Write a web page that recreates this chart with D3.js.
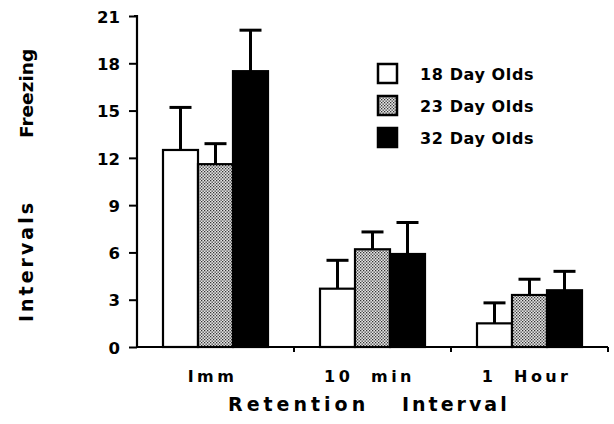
<!DOCTYPE html>
<html><head><meta charset="utf-8">
<script src="https://cdn.jsdelivr.net/npm/d3@7"></script>
<style>
html,body{margin:0;padding:0;background:#fff;}
text{font-family:"DejaVu Sans",sans-serif;font-weight:bold;fill:#000;}
</style></head>
<body>
<svg id="chart" width="614" height="424"></svg>
<script>
const categories = ["Imm", "10  min", "1  Hour"];
const series = ["18 Day Olds", "23 Day Olds", "32 Day Olds"];
const means18 = [12.5, 3.7, 1.5];
const means23 = [11.6, 6.2, 3.3];
const means32 = [17.5, 5.9, 3.6];
const errTop18 = [15.2, 5.5, 2.8];
const errTop23 = [12.9, 7.3, 4.3];
const errTop32 = [20.1, 7.9, 4.8];
const yTicks = [0, 3, 6, 9, 12, 15, 18, 21];

(function(){
const means = [means18, means23, means32];
const errTops = [errTop18, errTop23, errTop32];

const svg = d3.select("#chart");
const defs = svg.append("defs");
const pat = defs.append("pattern").attr("id","dots").attr("patternUnits","userSpaceOnUse")
  .attr("width",3).attr("height",3);
pat.append("rect").attr("width",3).attr("height",3).attr("fill","#e6e6e6");
pat.append("rect").attr("x",0).attr("y",0).attr("width",1.3).attr("height",1.3).attr("fill","#333");
pat.append("rect").attr("x",1.5).attr("y",1.5).attr("width",1.3).attr("height",1.3).attr("fill","#333");

const fills = ["#ffffff", "url(#dots)", "#000000"];

const mLeft = 137, mRight = 608, mTop = 16, mBottom = 347;
const y = d3.scaleLinear().domain([0, 21]).range([mBottom, mTop]);
const x0 = d3.scaleBand().domain(categories).range([mLeft, mRight]).padding(0);
const groupW = 105;
const x1 = d3.scaleBand().domain(series).range([0, groupW]).padding(0);
const off = (x0.bandwidth() - groupW) / 2;

const rows = [];
categories.forEach((c, ci) => series.forEach((s, si) => rows.push({c, s, v: means[si][ci], e: errTops[si][ci], si})));

const g = svg.append("g");
rows.forEach(d => {
  const cx = x0(d.c) + off + x1(d.s) + x1.bandwidth() / 2;
  g.append("line").attr("x1",cx).attr("x2",cx).attr("y1",y(d.v)).attr("y2",y(d.e))
    .attr("stroke","#000").attr("stroke-width",3);
  g.append("line").attr("x1",cx-11).attr("x2",cx+11).attr("y1",y(d.e)).attr("y2",y(d.e))
    .attr("stroke","#000").attr("stroke-width",3);
});
rows.forEach(d => {
  g.append("rect")
    .attr("x", x0(d.c) + off + x1(d.s))
    .attr("y", y(d.v))
    .attr("width", x1.bandwidth())
    .attr("height", y(0) - y(d.v))
    .attr("fill", fills[d.si])
    .attr("stroke", "#000").attr("stroke-width", 2.2);
});

const yAxis = d3.axisLeft(y).tickValues(yTicks).tickSize(8).tickPadding(9).tickFormat(d3.format("d"));
const ya = svg.append("g").attr("transform",`translate(${mLeft},0)`).call(yAxis);
ya.select(".domain").attr("stroke-width",2.2).attr("d",`M-3,${mTop}H0V${mBottom}`);
ya.selectAll(".tick line").attr("stroke-width",2);
ya.selectAll(".tick text").attr("font-size",16.5).attr("font-family","DejaVu Sans, sans-serif")
  .attr("font-weight","bold").attr("dy","0.38em");

const xAxis = d3.axisBottom(x0).tickSize(0).tickPadding(0).tickFormat(() => "");
const xa = svg.append("g").attr("transform",`translate(0,${mBottom})`).call(xAxis);
xa.select(".domain").attr("stroke-width",2.2).attr("d",`M${mLeft},0H${mRight}`);
const bounds = categories.slice(1).map(c => x0(c)).concat([mRight]);
bounds.forEach(b => xa.append("line").attr("x1",b).attr("x2",b).attr("y1",0).attr("y2",5)
  .attr("stroke","#000").attr("stroke-width",2));

categories.forEach(c => {
  svg.append("text").attr("x", x0(c) + x0.bandwidth()/2 - 3).attr("y", 382)
    .attr("text-anchor","middle").attr("font-size",16).attr("letter-spacing",3.4)
    .style("white-space","pre").text(c);
});

svg.append("text").attr("x",228).attr("y",411).attr("font-size",19).attr("letter-spacing",4).text("Retention");
svg.append("text").attr("x",402).attr("y",411).attr("font-size",19).attr("letter-spacing",3).text("Interval");

svg.append("text").attr("transform","translate(33,322) rotate(-90)").attr("font-size",19)
  .attr("letter-spacing",3).text("Intervals");
svg.append("text").attr("transform","translate(33,138) rotate(-90)").attr("font-size",18.5)
  .attr("letter-spacing",0).text("Freezing");

const leg = svg.append("g");
series.forEach((s, i) => {
  const cy = 74 + i * 32;
  leg.append("rect").attr("x",378).attr("y",cy-10).attr("width",19).attr("height",19)
    .attr("fill",fills[i]).attr("stroke","#000").attr("stroke-width",2.5);
  leg.append("text").attr("x",420).attr("y",cy+6).attr("font-size",16).attr("letter-spacing",0.6).text(s);
});
})();
</script>
</body></html>
